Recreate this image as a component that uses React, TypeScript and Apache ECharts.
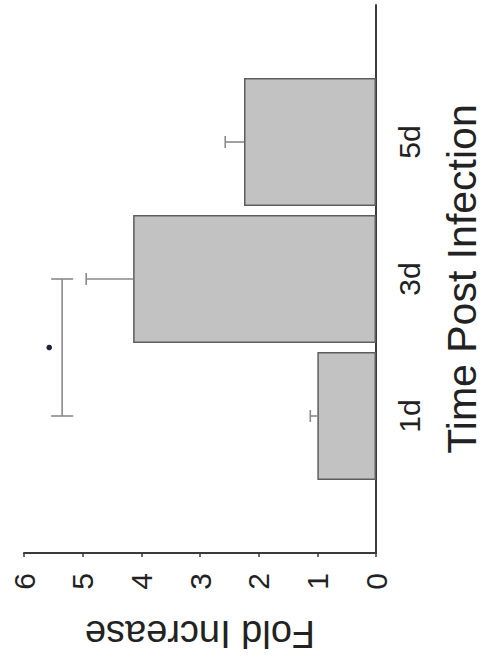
import React, { useEffect, useRef } from 'react';
import * as echarts from 'echarts';

// ---- data ----
const categories = ['1d', '3d', '5d'];
const foldIncrease = [1.0, 4.14, 2.25];
const errorTop = [1.12, 4.94, 2.57];
const valueTicks = [0, 1, 2, 3, 4, 5, 6];
const sigFrom = ['1d'];
const sigTo = ['3d'];
const sigBracketValue = [5.35];
const sigMarkValue = [5.57];

const FONT = 'Liberation Sans';

export default function App() {
  const ref = useRef<HTMLDivElement>(null);

  useEffect(() => {
    const chart = echarts.init(ref.current!, null, { renderer: 'svg' });
    // padded category axis so the axis extends one slot beyond the first and last group
    const axisCats = [' ', ...categories, '  '];

    const barData = categories.map((c, i) => [foldIncrease[i], c]);
    const errData = categories.map((c, i) => [foldIncrease[i], errorTop[i], c]);
    const sigData = sigFrom.map((f, i) => [sigBracketValue[i], sigMarkValue[i], f, sigTo[i]]);

    chart.setOption({
      animation: false,
      backgroundColor: '#ffffff',
      textStyle: { fontFamily: FONT },
      grid: {
        left: 24,
        right: 110,
        top: 5,
        bottom: 108,
        containLabel: false,
        outerBoundsMode: 'none',
      },
      xAxis: {
        type: 'value',
        inverse: true,
        position: 'bottom',
        min: valueTicks[0],
        max: valueTicks[valueTicks.length - 1],
        interval: valueTicks[1] - valueTicks[0],
        splitLine: { show: false },
        axisLine: { show: true, onZero: false, lineStyle: { color: '#3a3a3a', width: 2 } },
        axisTick: { show: true, inside: false, length: 4, lineStyle: { color: '#3a3a3a', width: 1.5 } },
        axisLabel: {
          rotate: 90,
          margin: 20,
          fontSize: 30,
          color: '#222',
          fontFamily: FONT,
        },
        name: 'Fold Increase',
        nameLocation: 'middle',
        nameRotate: 180,
        nameGap: 62,
        nameTextStyle: { fontSize: 38, color: '#222', fontFamily: FONT },
      },
      yAxis: {
        type: 'category',
        position: 'right',
        data: axisCats,
        boundaryGap: false,
        axisLine: { show: true, onZero: false, lineStyle: { color: '#3a3a3a', width: 2 } },
        axisTick: { show: false },
        splitLine: { show: false },
        axisLabel: {
          rotate: 90,
          interval: 0,
          margin: 18,
          fontSize: 30,
          color: '#222',
          fontFamily: FONT,
        },
        name: 'Time Post Infection',
        nameLocation: 'middle',
        nameRotate: 90,
        nameGap: 65,
        nameTextStyle: { fontSize: 41, color: '#222', fontFamily: FONT },
      },
      series: [
        {
          type: 'bar',
          data: barData,
          barWidth: 128,
          itemStyle: { color: '#c2c2c2', borderColor: '#5e5e5e', borderWidth: 1.5 },
          z: 2,
        },
        {
          type: 'custom',
          data: errData,
          encode: { x: [0, 1], y: 2 },
          z: 3,
          renderItem: (params: any, api: any) => {
            const base = api.coord([api.value(0), api.value(2)]);
            const end = api.coord([api.value(1), api.value(2)]);
            const cap = 6;
            const style = { stroke: '#8a8a8a', lineWidth: 1.6 };
            return {
              type: 'group',
              children: [
                { type: 'line', shape: { x1: base[0], y1: base[1], x2: end[0], y2: end[1] }, style },
                { type: 'line', shape: { x1: end[0], y1: end[1] - cap, x2: end[0], y2: end[1] + cap }, style },
              ],
            };
          },
        },
        {
          type: 'custom',
          data: sigData,
          encode: { x: [0, 1], y: [2, 3] },
          z: 3,
          renderItem: (params: any, api: any) => {
            const a = api.coord([api.value(0), api.value(2)]);
            const b = api.coord([api.value(0), api.value(3)]);
            const ma = api.coord([api.value(1), api.value(2)]);
            const mb = api.coord([api.value(1), api.value(3)]);
            const mx = (ma[0] + mb[0]) / 2;
            const my = (ma[1] + mb[1]) / 2;
            const cap = 11;
            const style = { stroke: '#8a8a8a', lineWidth: 1.6 };
            return {
              type: 'group',
              children: [
                { type: 'line', shape: { x1: a[0], y1: a[1], x2: b[0], y2: b[1] }, style },
                { type: 'line', shape: { x1: a[0] - cap, y1: a[1], x2: a[0] + cap, y2: a[1] }, style },
                { type: 'line', shape: { x1: b[0] - cap, y1: b[1], x2: b[0] + cap, y2: b[1] }, style },
                { type: 'circle', shape: { cx: mx, cy: my, r: 2.8 }, style: { fill: '#1c2340' } },
              ],
            };
          },
        },
      ],
    });

    return () => chart.dispose();
  }, []);

  return (
    <div
      ref={ref}
      style={{ position: 'fixed', left: 0, top: 0, width: 486, height: 661, background: '#fff' }}
    />
  );
}
